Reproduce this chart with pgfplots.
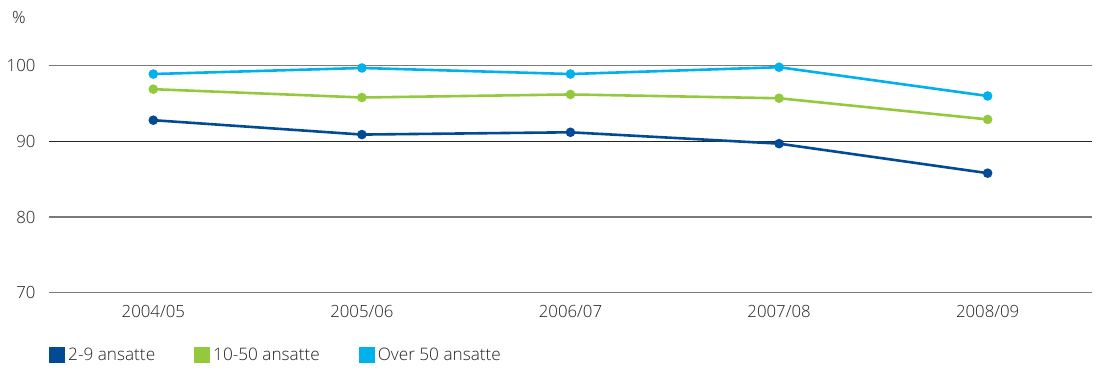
\documentclass[border=0pt]{standalone}
\usepackage{pgfplots}
\pgfplotsset{compat=1.18}
\usepackage{fontspec}
\setmainfont{Open Sans Light}

\definecolor{smalldark}{HTML}{004B93}
\definecolor{midgreen}{HTML}{95C93D}
\definecolor{largecyan}{HTML}{00B1EB}
\definecolor{gridgray}{HTML}{7A7A7A}
\definecolor{txtgray}{HTML}{222222}

\pgfplotstableread{
x  small  mid   large
0  92.8   96.9  98.9
1  90.9   95.8  99.7
2  91.2   96.2  98.9
3  89.7   95.7  99.8
4  85.8   92.9  96.0
}\satisfaction

\begin{document}
\begin{tikzpicture}[font=\fontsize{16.8}{19}\selectfont, text=txtgray]
\useasboundingbox (-49pt,-83.3pt) rectangle (1049pt,292.7pt);
\begin{axis}[
  at={(0,0)}, anchor=south west,
  scale only axis,
  width=1043pt, height=227pt,
  xmin=-0.5, xmax=4.5,
  ymin=70, ymax=100,
  clip=false,
  axis line style={draw=none},
  tick style={draw=none},
  xtick={0,...,4},
  xticklabels={2004/05,2005/06,2006/07,2007/08,2008/09},
  ytick={70,80,100},
  extra y ticks={90},
  extra y tick style={grid style={color=black!85, line width=1pt}},
  ymajorgrids,
  grid style={color=gridgray, line width=1.4pt},
  yticklabel style={anchor=east, xshift=-10pt},
  xticklabel style={anchor=north, yshift=-9pt},
  /pgf/number format/assume math mode=true,
  ticklabel style={text=txtgray},
  legend columns=3,
  legend style={
    at={(rel axis cs:0,0)}, anchor=west, yshift=-62.3pt, xshift=-3pt,
    draw=none, fill=none,
    font=\fontsize{17.2}{19}\selectfont,
    /tikz/every even column/.append style={column sep=36pt},
    nodes={inner ysep=1pt, inner xsep=3pt, text=txtgray},
  },
  legend image code/.code={
    \fill[#1, draw=none] (0pt,-8pt) rectangle (16pt,8pt);
  },
  every axis plot/.append style={line width=2.6pt, mark=*, mark size=3.4pt},
]
\addplot[color=smalldark] table[x=x, y=small] {\satisfaction};
\addlegendentry{2-9 ansatte}
\addplot[color=midgreen] table[x=x, y=mid] {\satisfaction};
\addlegendentry{10-50 ansatte}
\addplot[color=largecyan] table[x=x, y=large] {\satisfaction};
\addlegendentry{Over 50 ansatte}
\node[anchor=center, text=txtgray] at ([xshift=-30pt, yshift=48pt]rel axis cs:0,1) {\%};
\end{axis}
\end{tikzpicture}
\end{document}
